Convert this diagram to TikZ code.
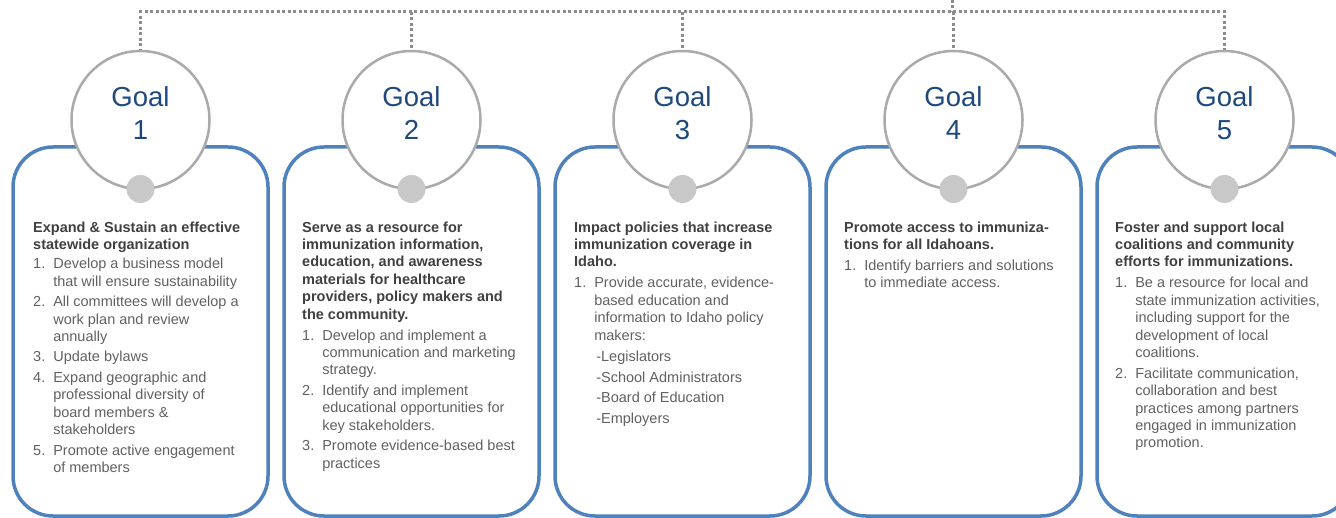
\documentclass[tikz,border=0pt]{standalone}
\usepackage{fontspec}
\setmainfont{Liberation Sans}
\usepackage{array}
\usepackage{tikz}
\usetikzlibrary{positioning}

\definecolor{goalblue}{RGB}{79,129,189}
\definecolor{ringgray}{RGB}{170,170,170}
\definecolor{knobgray}{RGB}{200,200,200}
\definecolor{treegray}{RGB}{140,140,140}
\definecolor{numblue}{RGB}{31,73,125}
\definecolor{headgray}{RGB}{64,64,64}
\definecolor{itemgray}{RGB}{96,96,96}

\newcommand{\goalfont}{\fontsize{14.5}{17.4}\selectfont}
\newcommand{\goalhead}[1]{\multicolumn{2}{@{}l@{}}{\textcolor{headgray}{\bfseries #1}}}
\newenvironment{goallist}{\begin{tabular}{@{}l@{\hspace{8pt}}l@{}}}{\end{tabular}}

\begin{document}
\begin{tikzpicture}[x=1pt,y=1pt,
  box/.style={draw=goalblue,line width=3.5pt,rounded corners=40pt,minimum width=255pt,minimum height=369pt,inner sep=0pt},
  ring/.style={draw=ringgray,line width=2.5pt,fill=white,shape=circle,minimum size=138pt,inner sep=0pt,outer sep=0pt},
  knob/.style={fill=knobgray,shape=circle,minimum size=28pt,inner sep=0pt},
  goalname/.style={text=numblue,align=center,font=\fontsize{27.5}{33}\selectfont,inner sep=0pt},
  list/.style={anchor=north west,inner sep=0pt,text=itemgray,font=\goalfont},
  tree/.style={draw=treegray,line width=3pt,dash pattern=on 3pt off 2.5pt}]

  \clip (0,0) rectangle (1336,-518);

  % Specification of nodes (position, etc.)
  \node[box] (b1) at (140.5,-331.5) {};
  \node[box] (b2) at (411.5,-331.5) {};
  \node[box] (b3) at (682.5,-331.5) {};
  \node[box] (b4) at (953.5,-331.5) {};
  \node[box] (b5) at (1224.5,-331.5) {};

  \coordinate (root) at (952,0);
  \coordinate (hub) at (952,-12);

  % dotted tree on top
  \draw[tree] (b1.north |- 0,-52) |- (hub) -| (b5.north |- 0,-52);
  \draw[tree] (root) -- (hub);
  \draw[tree] (b2.north |- hub) -- (b2.north |- 0,-52);
  \draw[tree] (b3.north |- hub) -- (b3.north |- 0,-52);
  \draw[tree] (b4.north |- hub) -- (b4.north |- 0,-52);

  \node[ring] (g1) at (140.5,-120) {};
  \node[ring] (g2) at (411.5,-120) {};
  \node[ring] (g3) at (682.5,-120) {};
  \node[ring] (g4) at (953.5,-120) {};
  \node[ring] (g5) at (1224.5,-120) {};

  \node[knob] (k1) at (g1.south) {};
  \node[knob] (k2) at (g2.south) {};
  \node[knob] (k3) at (g3.south) {};
  \node[knob] (k4) at (g4.south) {};
  \node[knob] (k5) at (g5.south) {};

  \node[goalname] (n1) at ([yshift=7pt]g1.center) {Goal\\1};
  \node[goalname] (n2) at ([yshift=7pt]g2.center) {Goal\\2};
  \node[goalname] (n3) at ([yshift=7pt]g3.center) {Goal\\3};
  \node[goalname] (n4) at ([yshift=7pt]g4.center) {Goal\\4};
  \node[goalname] (n5) at ([yshift=7pt]g5.center) {Goal\\5};

  % texts of the goals
  \node[list] (l1) at (33,-219.8) {\begin{goallist}
    \goalhead{Expand \& Sustain an effective}\\
    \goalhead{statewide organization}\\[2pt]
    1. & Develop a business model\\
       & that will ensure sustainability\\[3pt]
    2. & All committees will develop a\\
       & work plan and review\\
       & annually\\[3pt]
    3. & Update bylaws\\[3pt]
    4. & Expand geographic and\\
       & professional diversity of\\
       & board members \&\\
       & stakeholders\\[3.5pt]
    5. & Promote active engagement\\
       & of members
  \end{goallist}};

  \node[list] (l2) at (302,-219.8) {\begin{goallist}
    \goalhead{Serve as a resource for}\\
    \goalhead{immunization information,}\\
    \goalhead{education, and awareness}\\
    \goalhead{materials for healthcare}\\
    \goalhead{providers, policy makers and}\\
    \goalhead{the community.}\\[3.5pt]
    1. & Develop and implement a\\
       & communication and marketing\\
       & strategy.\\[3pt]
    2. & Identify and implement\\
       & educational opportunities for\\
       & key stakeholders.\\[3.5pt]
    3. & Promote evidence-based best\\
       & practices
  \end{goallist}};

  \node[list] (l3) at (574,-219.8) {\begin{goallist}
    \goalhead{Impact policies that increase}\\
    \goalhead{immunization coverage in}\\
    \goalhead{Idaho.}\\[3.5pt]
    1. & Provide accurate, evidence-\\
       & based education and\\
       & information to Idaho policy\\
       & makers:\\[4.5pt]
       & \hspace{2pt}-Legislators\\[3pt]
       & \hspace{2pt}-School Administrators\\[3pt]
       & \hspace{2pt}-Board of Education\\[3pt]
       & \hspace{2pt}-Employers
  \end{goallist}};

  \node[list] (l4) at (844,-219.8) {\begin{goallist}
    \goalhead{Promote access to immuniza-}\\
    \goalhead{tions for all Idahoans.}\\[3.5pt]
    1. & Identify barriers and solutions\\
       & to immediate access.
  \end{goallist}};

  \node[list] (l5) at (1115,-219.8) {\begin{goallist}
    \goalhead{Foster and support local}\\
    \goalhead{coalitions and community}\\
    \goalhead{efforts for immunizations.}\\[3.5pt]
    1. & Be a resource for local and\\
       & state immunization activities,\\
       & including support for the\\
       & development of local\\
       & coalitions.\\[3.5pt]
    2. & Facilitate communication,\\
       & collaboration and best\\
       & practices among partners\\
       & engaged in immunization\\
       & promotion.
  \end{goallist}};

\end{tikzpicture}
\end{document}
